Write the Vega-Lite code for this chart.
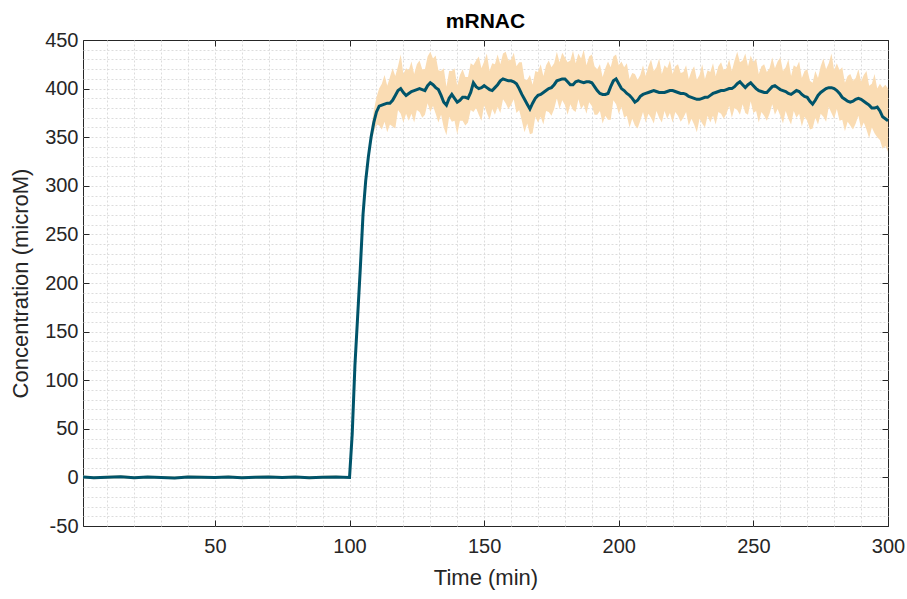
{
"$schema": "https://vega.github.io/schema/vega-lite/v6.json",
"width": 805, "height": 486,
"autosize": {"type": "none"},
"padding": {"left": 83, "top": 40, "right": 19, "bottom": 73},
"background": "white",
"title": {"text": "mRNAC", "font": "Liberation Sans", "fontSize": 21, "fontWeight": "bold", "color": "#000000", "anchor": "middle", "offset": -2},
"config": {
  "view": {"stroke": "#262626", "strokeWidth": 1},
  "axis": {"labelFont": "Liberation Sans", "labelFontSize": 20, "labelColor": "#262626", "titleFont": "Liberation Sans", "titleFontSize": 22, "titleFontWeight": "normal", "titleColor": "#262626", "domain": false, "labelFlush": false, "labelOverlap": false, "tickColor": "#262626", "tickWidth": 1}
},
"data": {"values": [
{"t":1,"m":0.5,"lo":-1,"hi":2},{"t":5,"m":-0.3,"lo":-1.8,"hi":1.2},{"t":10,"m":0.2,"lo":-1.3,"hi":1.7},{"t":15,"m":0.6,"lo":-0.9,"hi":2.1},{"t":20,"m":-0.4,"lo":-1.9,"hi":1.1},{"t":25,"m":0.3,"lo":-1.2,"hi":1.8},{"t":30,"m":0,"lo":-1.5,"hi":1.5},{"t":35,"m":-0.5,"lo":-2,"hi":1},{"t":40,"m":0.4,"lo":-1.1,"hi":1.9},{"t":45,"m":0.1,"lo":-1.4,"hi":1.6},{"t":50,"m":-0.2,"lo":-1.7,"hi":1.3},{"t":55,"m":0.5,"lo":-1,"hi":2},{"t":60,"m":-0.3,"lo":-1.8,"hi":1.2},{"t":65,"m":0.2,"lo":-1.3,"hi":1.7},{"t":70,"m":0.4,"lo":-1.1,"hi":1.9},{"t":75,"m":-0.1,"lo":-1.6,"hi":1.4},{"t":80,"m":0.3,"lo":-1.2,"hi":1.8},{"t":85,"m":-0.4,"lo":-1.9,"hi":1.1},{"t":90,"m":0.2,"lo":-1.3,"hi":1.7},{"t":95,"m":0.5,"lo":-1,"hi":2},{"t":100,"m":0,"lo":-1,"hi":1},
{"t":101,"m":45,"lo":42,"hi":48},{"t":102,"m":115,"lo":112,"hi":118},{"t":103,"m":165,"lo":162,"hi":168},{"t":104,"m":215,"lo":212,"hi":218},{"t":105,"m":270,"lo":267,"hi":273},{"t":106,"m":305,"lo":301,"hi":309},{"t":107,"m":330,"lo":325,"hi":335},{"t":108,"m":350,"lo":343,"hi":358},{"t":109,"m":365,"lo":355,"hi":377},{"t":110,"m":376,"lo":363,"hi":391},{"t":111,"m":382,"lo":362,"hi":400},
{"t":112,"m":383,"lo":358,"hi":405},{"t":113,"m":384,"lo":366,"hi":414},{"t":114,"m":385,"lo":355,"hi":403},{"t":115,"m":385,"lo":363,"hi":412},{"t":116,"m":388,"lo":361,"hi":421},{"t":117,"m":393,"lo":359,"hi":413},{"t":118,"m":398,"lo":378,"hi":423},{"t":119,"m":400,"lo":374,"hi":435},{"t":120,"m":396,"lo":365,"hi":415},
{"t":121,"m":393,"lo":374,"hi":421},{"t":122,"m":395,"lo":367,"hi":419},{"t":123,"m":397,"lo":374,"hi":428},{"t":124,"m":398,"lo":365,"hi":415},{"t":125,"m":399,"lo":378,"hi":425},{"t":126,"m":400,"lo":376,"hi":429},{"t":127,"m":399,"lo":370,"hi":420},{"t":128,"m":398,"lo":373,"hi":420},{"t":129,"m":403,"lo":385,"hi":433},{"t":130,"m":406,"lo":376,"hi":438},
{"t":131,"m":404,"lo":382,"hi":431},{"t":132,"m":401,"lo":374,"hi":434},{"t":133,"m":399,"lo":365,"hi":419},{"t":134,"m":393,"lo":373,"hi":418},{"t":135,"m":386,"lo":360,"hi":421},{"t":136,"m":383,"lo":352,"hi":402},{"t":137,"m":390,"lo":371,"hi":418},{"t":138,"m":394,"lo":366,"hi":418},{"t":139,"m":390,"lo":367,"hi":421},{"t":140,"m":386,"lo":353,"hi":403},
{"t":141,"m":388,"lo":367,"hi":414},{"t":142,"m":391,"lo":367,"hi":420},{"t":143,"m":391,"lo":362,"hi":412},{"t":144,"m":390,"lo":365,"hi":412},{"t":145,"m":396,"lo":378,"hi":426},{"t":146,"m":406,"lo":376,"hi":424},{"t":147,"m":402,"lo":380,"hi":429},{"t":148,"m":400,"lo":373,"hi":433},{"t":149,"m":401,"lo":367,"hi":421},{"t":150,"m":403,"lo":383,"hi":428},
{"t":151,"m":401,"lo":375,"hi":436},{"t":152,"m":399,"lo":368,"hi":418},{"t":153,"m":398,"lo":379,"hi":426},{"t":154,"m":401,"lo":373,"hi":425},{"t":155,"m":404,"lo":381,"hi":435},{"t":156,"m":408,"lo":375,"hi":425},{"t":157,"m":410,"lo":389,"hi":436},{"t":158,"m":409,"lo":385,"hi":438},{"t":159,"m":408,"lo":379,"hi":429},{"t":160,"m":408,"lo":383,"hi":430},
{"t":161,"m":407,"lo":389,"hi":437},{"t":162,"m":405,"lo":375,"hi":423},{"t":163,"m":400,"lo":378,"hi":427},{"t":164,"m":394,"lo":367,"hi":427},{"t":165,"m":389,"lo":355,"hi":409},{"t":166,"m":384,"lo":364,"hi":409},{"t":167,"m":379,"lo":353,"hi":414},{"t":168,"m":385,"lo":354,"hi":404},{"t":169,"m":390,"lo":371,"hi":418},{"t":170,"m":393,"lo":365,"hi":417},
{"t":171,"m":394,"lo":371,"hi":425},{"t":172,"m":396,"lo":363,"hi":413},{"t":173,"m":398,"lo":377,"hi":424},{"t":174,"m":400,"lo":376,"hi":429},{"t":175,"m":401,"lo":372,"hi":422},{"t":176,"m":404,"lo":379,"hi":426},{"t":177,"m":408,"lo":390,"hi":438},{"t":178,"m":409,"lo":379,"hi":427},{"t":179,"m":410,"lo":388,"hi":437},{"t":180,"m":410,"lo":383,"hi":432},
{"t":181,"m":407,"lo":373,"hi":427},{"t":182,"m":404,"lo":384,"hi":429},{"t":183,"m":404,"lo":378,"hi":439},{"t":184,"m":407,"lo":376,"hi":426},{"t":185,"m":408,"lo":389,"hi":436},{"t":186,"m":407,"lo":379,"hi":431},{"t":187,"m":406,"lo":383,"hi":440},{"t":188,"m":407,"lo":374,"hi":424},{"t":189,"m":407,"lo":386,"hi":433},{"t":190,"m":406,"lo":382,"hi":435},
{"t":191,"m":402,"lo":373,"hi":423},{"t":192,"m":398,"lo":373,"hi":420},{"t":193,"m":395,"lo":377,"hi":425},{"t":194,"m":394,"lo":364,"hi":412},{"t":195,"m":394,"lo":372,"hi":421},{"t":196,"m":395,"lo":368,"hi":428},{"t":197,"m":402,"lo":368,"hi":422},{"t":198,"m":408,"lo":388,"hi":433},{"t":199,"m":410,"lo":384,"hi":435},{"t":200,"m":405,"lo":374,"hi":424},
{"t":201,"m":400,"lo":381,"hi":428},{"t":202,"m":398,"lo":370,"hi":422},{"t":203,"m":395,"lo":372,"hi":426},{"t":204,"m":393,"lo":360,"hi":410},{"t":205,"m":390,"lo":369,"hi":416},{"t":206,"m":386,"lo":362,"hi":415},{"t":207,"m":388,"lo":359,"hi":409},{"t":208,"m":392,"lo":367,"hi":414},{"t":209,"m":394,"lo":376,"hi":424},{"t":210,"m":395,"lo":365,"hi":413},
{"t":211,"m":396,"lo":374,"hi":423},{"t":212,"m":397,"lo":370,"hi":430},{"t":213,"m":398,"lo":364,"hi":418},{"t":214,"m":397,"lo":377,"hi":422},{"t":215,"m":396,"lo":370,"hi":431},{"t":216,"m":396,"lo":365,"hi":415},{"t":217,"m":396,"lo":377,"hi":424},{"t":218,"m":397,"lo":369,"hi":421},{"t":219,"m":398,"lo":375,"hi":429},{"t":220,"m":398,"lo":365,"hi":415},
{"t":221,"m":397,"lo":376,"hi":423},{"t":222,"m":396,"lo":372,"hi":425},{"t":223,"m":395,"lo":366,"hi":416},{"t":224,"m":395,"lo":370,"hi":417},{"t":225,"m":394,"lo":376,"hi":424},{"t":226,"m":392,"lo":362,"hi":410},{"t":227,"m":391,"lo":369,"hi":418},{"t":228,"m":390,"lo":363,"hi":423},{"t":229,"m":389,"lo":355,"hi":409},{"t":230,"m":389,"lo":369,"hi":414},
{"t":231,"m":390,"lo":364,"hi":425},{"t":232,"m":391,"lo":360,"hi":410},{"t":233,"m":391,"lo":372,"hi":419},{"t":234,"m":393,"lo":365,"hi":417},{"t":235,"m":395,"lo":372,"hi":426},{"t":236,"m":396,"lo":363,"hi":413},{"t":237,"m":397,"lo":376,"hi":423},{"t":238,"m":398,"lo":374,"hi":427},{"t":239,"m":398,"lo":369,"hi":419},{"t":240,"m":399,"lo":374,"hi":421},
{"t":241,"m":400,"lo":382,"hi":430},{"t":242,"m":400,"lo":370,"hi":418},{"t":243,"m":402,"lo":380,"hi":429},{"t":244,"m":405,"lo":378,"hi":438},{"t":245,"m":407,"lo":373,"hi":427},{"t":246,"m":404,"lo":384,"hi":429},{"t":247,"m":401,"lo":375,"hi":436},{"t":248,"m":404,"lo":373,"hi":423},{"t":249,"m":406,"lo":387,"hi":434},{"t":250,"m":403,"lo":375,"hi":427},
{"t":251,"m":400,"lo":377,"hi":431},{"t":252,"m":398,"lo":365,"hi":415},{"t":253,"m":397,"lo":376,"hi":423},{"t":254,"m":396,"lo":372,"hi":425},{"t":255,"m":396,"lo":367,"hi":417},{"t":256,"m":399,"lo":374,"hi":421},{"t":257,"m":402,"lo":384,"hi":432},{"t":258,"m":403,"lo":373,"hi":421},{"t":259,"m":401,"lo":379,"hi":428},{"t":260,"m":399,"lo":372,"hi":432},
{"t":261,"m":398,"lo":364,"hi":418},{"t":262,"m":397,"lo":377,"hi":422},{"t":263,"m":395,"lo":369,"hi":430},{"t":264,"m":394,"lo":363,"hi":413},{"t":265,"m":396,"lo":377,"hi":424},{"t":266,"m":398,"lo":370,"hi":422},{"t":267,"m":397,"lo":374,"hi":428},{"t":268,"m":394,"lo":361,"hi":411},{"t":269,"m":392,"lo":371,"hi":418},{"t":270,"m":391,"lo":367,"hi":420},
{"t":271,"m":387,"lo":358,"hi":408},{"t":272,"m":384,"lo":359,"hi":406},{"t":273,"m":388,"lo":370,"hi":418},{"t":274,"m":393,"lo":363,"hi":411},{"t":275,"m":396,"lo":374,"hi":423},{"t":276,"m":398,"lo":371,"hi":431},{"t":277,"m":400,"lo":366,"hi":420},{"t":278,"m":401,"lo":381,"hi":426},{"t":279,"m":401,"lo":375,"hi":436},{"t":280,"m":400,"lo":369,"hi":419},
{"t":281,"m":398,"lo":379,"hi":426},{"t":282,"m":395,"lo":367,"hi":419},{"t":283,"m":391,"lo":368,"hi":422},{"t":284,"m":389,"lo":356,"hi":406},{"t":285,"m":387,"lo":366,"hi":413},{"t":286,"m":386,"lo":362,"hi":415},{"t":287,"m":387,"lo":358,"hi":408},{"t":288,"m":389,"lo":364,"hi":411},{"t":289,"m":390,"lo":372,"hi":420},{"t":290,"m":389,"lo":359,"hi":407},
{"t":291,"m":387,"lo":365,"hi":414},{"t":292,"m":385,"lo":358,"hi":418},{"t":293,"m":383,"lo":349,"hi":403},{"t":294,"m":380,"lo":360,"hi":405},{"t":295,"m":380,"lo":354,"hi":415},{"t":296,"m":381,"lo":350,"hi":400},{"t":297,"m":377,"lo":347,"hi":405},{"t":298,"m":371,"lo":338,"hi":401},{"t":299,"m":369,"lo":341,"hi":404},{"t":300,"m":367,"lo":335,"hi":400}
]},
"layer": [
  {
    "mark": {"type": "area", "color": "#fadcb3", "opacity": 1, "clip": true},
    "encoding": {
      "x": {"field": "t", "type": "quantitative", "scale": {"domain": [1, 300], "nice": false, "zero": false},
        "axis": {"orient": "bottom", "title": "Time (min)", "values": [10,20,30,40,50,60,70,80,90,100,110,120,130,140,150,160,170,180,190,200,210,220,230,240,250,260,270,280,290,300],
          "grid": true, "gridDash": [2, 2], "gridColor": "#dcdcdc", "gridWidth": 1,
          "gridOpacity": {"condition": {"test": "datum.value === 300", "value": 0}, "value": 1},
          "labelExpr": "datum.value % 50 === 0 ? '' + datum.value : ''",
          "tickSize": -6, "tickOpacity": {"condition": {"test": "datum.value % 50 === 0", "value": 1}, "value": 0},
          "labelPadding": 16, "titlePadding": 11}},
      "y": {"field": "lo", "type": "quantitative", "scale": {"domain": [-50, 450], "nice": false, "zero": false},
        "axis": {"orient": "left", "title": "Concentration (microM)", "values": [-50,-40,-30,-20,-10,0,10,20,30,40,50,60,70,80,90,100,110,120,130,140,150,160,170,180,190,200,210,220,230,240,250,260,270,280,290,300,310,320,330,340,350,360,370,380,390,400,410,420,430,440,450],
          "grid": true, "gridDash": [2, 2], "gridColor": "#dcdcdc", "gridWidth": 1,
          "gridOpacity": {"condition": {"test": "datum.value === 450 || datum.value === -50", "value": 0}, "value": 1},
          "labelExpr": "datum.value % 50 === 0 ? '' + datum.value : ''",
          "tickSize": -6, "tickOpacity": {"condition": {"test": "datum.value % 50 === 0", "value": 1}, "value": 0},
          "labelPadding": 11, "titlePadding": 12}},
      "y2": {"field": "hi"}
    }
  },
  {
    "mark": {"type": "line", "color": "#00546a", "strokeWidth": 3, "clip": true},
    "encoding": {
      "x": {"field": "t", "type": "quantitative",
        "axis": {"orient": "top", "title": null, "values": [50,100,150,200,250,300], "grid": false, "labels": false, "tickSize": -6}},
      "y": {"field": "m", "type": "quantitative",
        "axis": {"orient": "right", "title": null, "values": [-50,0,50,100,150,200,250,300,350,400,450], "grid": false, "labels": false, "tickSize": -6}}
    }
  }
],
"resolve": {"axis": {"x": "independent", "y": "independent"}}
}
